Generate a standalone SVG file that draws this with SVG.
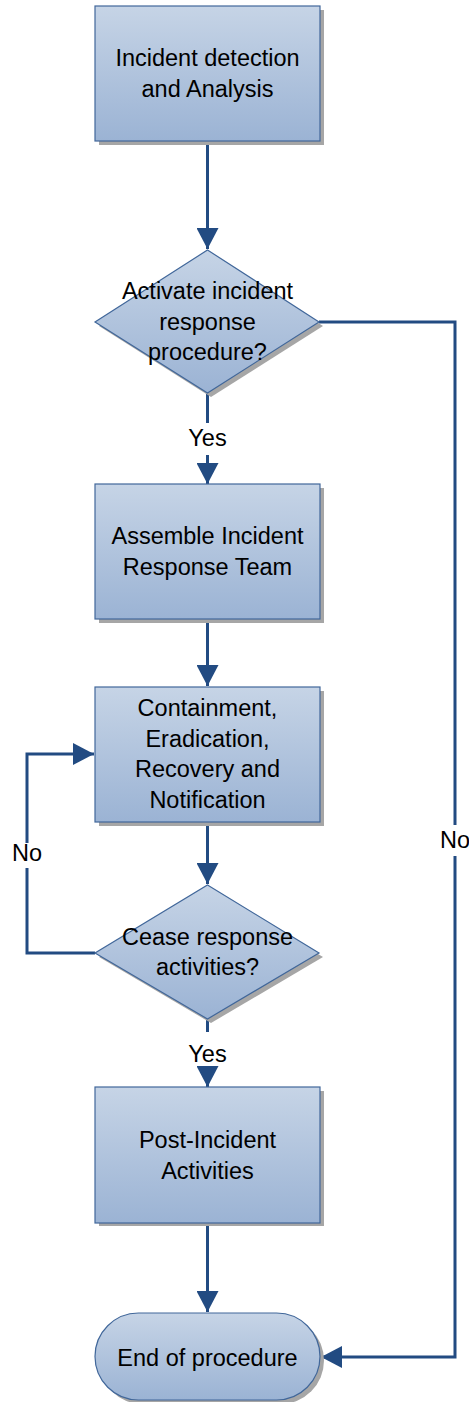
<svg xmlns="http://www.w3.org/2000/svg" width="469" height="1402" viewBox="0 0 469 1402">
<defs>
<linearGradient id="fillGrad" x1="0" y1="0" x2="0" y2="1">
<stop offset="0" stop-color="#c6d4e6"/>
<stop offset="1" stop-color="#9bb3d4"/>
</linearGradient>
<marker id="arrow" markerUnits="userSpaceOnUse" markerWidth="22" markerHeight="22" refX="21" refY="11" orient="auto">
<path d="M0,0 L21,11 L0,22 z" fill="#224b82"/>
</marker>
<style>
.node{fill:url(#fillGrad);stroke:#41679a;stroke-width:1.2}
.shadow{fill:#a6a6a6}
.lbl{font-family:"Liberation Sans",Arial,sans-serif;font-size:23.5px;fill:#000;text-anchor:middle}
.conn{fill:none;stroke:#224b82;stroke-width:3}
</style>
</defs>
<rect width="469" height="1402" fill="#fff"/>
<g id="connectors">
<path class="conn" d="M207.5,141 V249" marker-end="url(#arrow)"/>
<path class="conn" d="M207.5,393 V423"/>
<path class="conn" d="M207.5,455 V484" marker-end="url(#arrow)"/>
<text class="lbl" x="207.5" y="446">Yes</text>
<path class="conn" d="M207.5,619 V686" marker-end="url(#arrow)"/>
<path class="conn" d="M207.5,822 V884" marker-end="url(#arrow)"/>
<path class="conn" d="M207.5,1019 V1032"/>
<path class="conn" d="M207.5,1067 V1087" marker-end="url(#arrow)"/>
<text class="lbl" x="207.5" y="1062">Yes</text>
<path class="conn" d="M207.5,1223 V1312" marker-end="url(#arrow)"/>
<path class="conn" d="M95,953 H27 V868"/>
<path class="conn" d="M27,843 V754 H94" marker-end="url(#arrow)"/>
<text class="lbl" x="27" y="861">No</text>
<path class="conn" d="M319,322 H455 V825"/>
<path class="conn" d="M455,856 V1357 H321" marker-end="url(#arrow)"/>
<text class="lbl" x="455" y="848">No</text>
</g>
<g id="node-detection">
<rect class="shadow" x="99" y="10" width="225" height="135"/>
<rect class="node" x="95" y="6" width="225" height="135"/>
<text class="lbl" x="207.5" y="66">Incident detection</text>
<text class="lbl" x="207.5" y="97">and Analysis</text>
</g>
<g id="node-activate">
<polygon class="shadow" points="211,254 323,326 211,397 99,326"/>
<polygon class="node" points="207.5,250 319,322 207.5,393 95,322"/>
<text class="lbl" x="207.5" y="299">Activate incident</text>
<text class="lbl" x="207.5" y="329.5">response</text>
<text class="lbl" x="207.5" y="360">procedure?</text>
</g>
<g id="node-assemble">
<rect class="shadow" x="99" y="488" width="225" height="135"/>
<rect class="node" x="95" y="484" width="225" height="135"/>
<text class="lbl" x="207.5" y="544">Assemble Incident</text>
<text class="lbl" x="207.5" y="575">Response Team</text>
</g>
<g id="node-containment">
<rect class="shadow" x="99" y="691" width="225" height="135"/>
<rect class="node" x="95" y="687" width="225" height="135"/>
<text class="lbl" x="207.5" y="716">Containment,</text>
<text class="lbl" x="207.5" y="746.5">Eradication,</text>
<text class="lbl" x="207.5" y="777">Recovery and</text>
<text class="lbl" x="207.5" y="807.5">Notification</text>
</g>
<g id="node-cease">
<polygon class="shadow" points="211,889 323,957 211,1023 99,957"/>
<polygon class="node" points="207.5,885 319,953 207.5,1019 95,953"/>
<text class="lbl" x="207.5" y="945">Cease response</text>
<text class="lbl" x="207.5" y="975">activities?</text>
</g>
<g id="node-post">
<rect class="shadow" x="99" y="1091" width="225" height="135"/>
<rect class="node" x="95" y="1087" width="225" height="136"/>
<text class="lbl" x="207.5" y="1148">Post-Incident</text>
<text class="lbl" x="207.5" y="1178.5">Activities</text>
</g>
<g id="node-end">
<rect class="shadow" x="99" y="1317" width="225" height="87" rx="43.5"/>
<rect class="node" x="95" y="1313" width="225" height="87" rx="43.5"/>
<text class="lbl" x="207.5" y="1365.5">End of procedure</text>
</g>
</svg>
